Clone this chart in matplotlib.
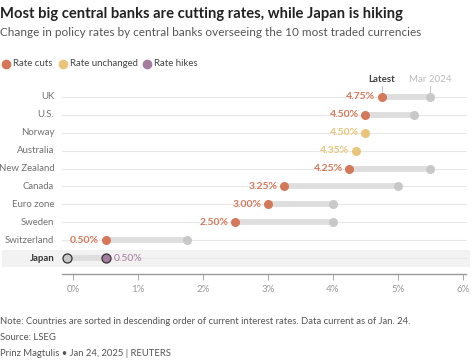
import matplotlib
matplotlib.use("Agg")
import matplotlib.pyplot as plt
from matplotlib.patches import Rectangle

plt.rcParams['font.family'] = ['Lato', 'DejaVu Sans']

countries = ["UK", "U.S.", "Norway", "Australia", "New Zealand", "Canada",
             "Euro zone", "Sweden", "Switzerland", "Japan"]
latest = [4.75, 4.50, 4.50, 4.35, 4.25, 3.25, 3.00, 2.50, 0.50, 0.50]
mar2024 = [5.50, 5.25, 4.50, 4.35, 5.50, 5.00, 4.00, 4.00, 1.75, -0.10]
status = ["cut", "cut", "same", "same", "cut", "cut", "cut", "cut", "cut", "hike"]
xticks = [0, 1, 2, 3, 4, 5, 6]
xticklabels = ["0%", "1%", "2%", "3%", "4%", "5%", "6%"]

colors = {"cut": "#d4785a", "same": "#e8c57a", "hike": "#a57d9f"}
legend_labels = [("cut", "Rate cuts"), ("same", "Rate unchanged"), ("hike", "Rate hikes")]

W, H = 474, 362
fig = plt.figure(figsize=(W / 100, H / 100), dpi=100)
renderer = fig.canvas.get_renderer()

def fx(px):
    return px / W

def fy(py):
    return 1 - py / H

def fit(t, target_w):
    for _ in range(3):
        w = t.get_window_extent(renderer).width
        t.set_fontsize(t.get_fontsize() * target_w / w)
    return t

ax_l, ax_r, ax_t, ax_b = 62, 466, 85, 274
ax = fig.add_axes([fx(ax_l), fy(ax_b), fx(ax_r - ax_l), (ax_b - ax_t) / H])
ax.set_xlim(-0.17, 6.05)
ax.set_ylim(9.89, -0.67)
ax.patch.set_alpha(0)

# Japan highlight band
band = Rectangle((fx(2), fy(267)), fx(468), 17 / H, transform=fig.transFigure,
                 facecolor="#f2f2f2", edgecolor="none", zorder=-5)
fig.patches.append(band)

n = len(countries)
for i in range(n):
    ax.plot([-0.17, 6.05], [i, i], color="#e8e8e8", lw=0.8, zorder=1, clip_on=False)
    lo, hi = min(latest[i], mar2024[i]), max(latest[i], mar2024[i])
    if hi > lo:
        ax.plot([lo, hi], [i, i], color="#dedede", lw=4.2, solid_capstyle="butt", zorder=2)
    c = colors[status[i]]
    is_japan = countries[i] == "Japan"
    ec = "#333333" if is_japan else "none"
    mew = 0.9 if is_japan else 0
    if mar2024[i] != latest[i]:
        ax.plot(mar2024[i], i, "o", ms=6.5, color="#c8c8c8", mec=ec, mew=mew, zorder=3, clip_on=False)
    ax.plot(latest[i], i, "o", ms=6.5, color=c, mec=ec, mew=mew, zorder=4, clip_on=False)
    lab = f"{latest[i]:.2f}%"
    if is_japan:
        ax.text(latest[i] + 0.12, i, lab, color=c, fontsize=7.5, ha="left", va="center")
    else:
        ax.text(latest[i] - 0.1, i, lab, color=c, fontsize=7.5, ha="right", va="center",
                fontweight="bold")
    ax.text(-0.17 - 0.12, i, countries[i], ha="right", va="center", fontsize=6.9,
            color="#333333" if is_japan else "#707070",
            fontweight="bold" if is_japan else "normal", clip_on=False)

# annotations above UK
ax.text(latest[0], -0.95, "Latest", ha="center", va="center", fontsize=7, fontweight="bold", color="#444444")
ax.text(mar2024[0], -0.95, "Mar 2024", ha="center", va="center", fontsize=7, color="#bbbbbb")
ax.plot([latest[0], latest[0]], [-0.6, -0.3], color="#bbbbbb", lw=0.6, clip_on=False)
ax.plot([mar2024[0], mar2024[0]], [-0.6, -0.3], color="#bbbbbb", lw=0.6, clip_on=False)

for s in ["left", "right", "top"]:
    ax.spines[s].set_visible(False)
ax.spines["bottom"].set_color("#999999")
ax.spines["bottom"].set_linewidth(1.0)
ax.set_yticks([])
ax.set_xticks(xticks)
ax.set_xticklabels(xticklabels, fontsize=7, color="#999999")
ax.tick_params(axis="x", length=4, width=0.6, color="#999999", pad=4)

# Title & subtitle
t1 = fig.text(fx(0), fy(14), "Most big central banks are cutting rates, while Japan is hiking",
              fontsize=10.5, fontweight="bold", color="#222222", va="center", ha="left")
fit(t1, 403)
t2 = fig.text(fx(0), fy(33), "Change in policy rates by central banks overseeing the 10 most traded currencies",
              fontsize=8.5, color="#555555", va="center", ha="left")
fit(t2, 423)

# Legend
lx = [6, 63, 147]
for (k, t), x in zip(legend_labels, lx):
    fig.lines.append(plt.Line2D([fx(x)], [fy(64)], marker="o", ms=6, color=colors[k],
                                transform=fig.transFigure, lw=0))
    fig.text(fx(x + 7), fy(64), t, fontsize=6.9, color="#444444", va="center", ha="left")

# Footer
t3 = fig.text(fx(0), fy(322), "Note: Countries are sorted in descending order of current interest rates. Data current as of Jan. 24.",
              fontsize=7, color="#555555", va="center", ha="left")
fit(t3, 408)
fs = t3.get_fontsize()
fig.text(fx(0), fy(338), "Source: LSEG", fontsize=fs, color="#555555", va="center", ha="left")
fig.text(fx(0), fy(353), "Prinz Magtulis • Jan 24, 2025 | REUTERS", fontsize=fs, color="#555555", va="center", ha="left")

fig.savefig("out.png", dpi=100)
